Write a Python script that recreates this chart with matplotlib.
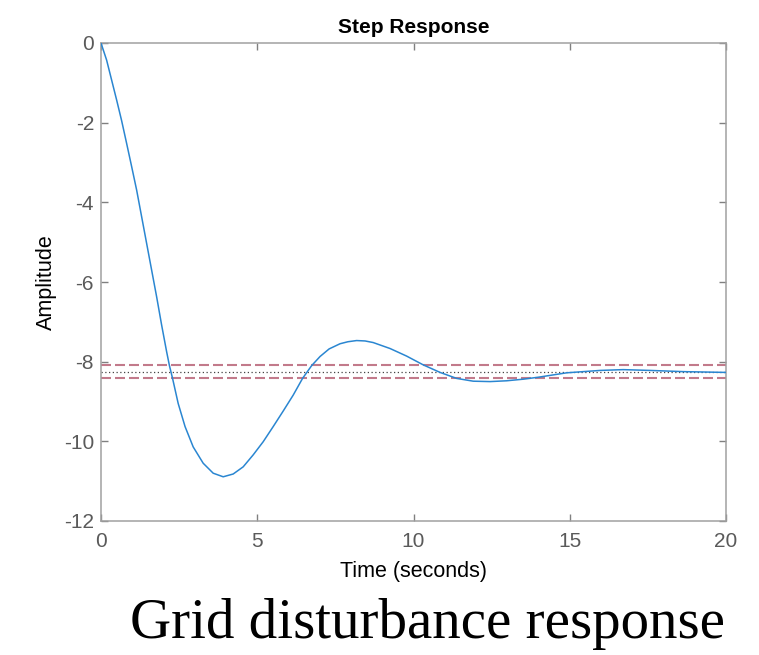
import matplotlib
matplotlib.use("Agg")
import matplotlib.pyplot as plt

# Data
time_s = [0, 0.18, 0.34, 0.50, 0.66, 0.82, 0.98, 1.14, 1.30, 1.46, 1.62, 1.78, 1.94,
          2.10, 2.19, 2.29, 2.47, 2.69, 2.95, 3.27, 3.59, 3.91, 4.23, 4.55, 4.87,
          5.19, 5.51, 5.83, 6.15, 6.45, 6.74, 7.01, 7.30, 7.65, 7.90, 8.18, 8.45,
          8.71, 9.25, 9.78, 10.31, 10.85, 11.38, 11.91, 12.45, 12.98, 13.51, 14.0,
          14.9, 15.97, 16.71, 17.57, 18.63, 20.0]
amplitude = [0, -0.43, -0.93, -1.43, -1.95, -2.52, -3.10, -3.69, -4.36, -5.03, -5.70,
             -6.37, -7.08, -7.75, -8.10, -8.42, -9.05, -9.63, -10.14, -10.55, -10.80,
             -10.89, -10.82, -10.64, -10.34, -10.01, -9.63, -9.24, -8.84, -8.42, -8.10,
             -7.87, -7.68, -7.55, -7.50, -7.47, -7.48, -7.52, -7.67, -7.86, -8.08,
             -8.27, -8.42, -8.49, -8.50, -8.48, -8.44, -8.39, -8.28, -8.22, -8.20,
             -8.22, -8.25, -8.27]
final_value = -8.25
settle_upper = -8.085
settle_lower = -8.415

x_ticks = [0, 5, 10, 15, 20]
y_ticks = [0, -2, -4, -6, -8, -10, -12]

title_text = "Step Response"
x_label = "Time (seconds)"
y_label = "Amplitude"
caption = "Grid disturbance response"

fig = plt.figure(figsize=(7.59, 6.55), dpi=100)
ax = fig.add_axes([101/759, 1 - 521/655, 625/759, 478/655])

sans = ["Liberation Sans", "DejaVu Sans"]
px = 0.72  # 1 px in points at 100 dpi

lw_d = 1.5
dash = (0, (10*px/lw_d, 4*px/lw_d))
ax.axhline(settle_upper, color="#c27a8b", lw=lw_d, linestyle=dash, zorder=2)
ax.axhline(settle_lower, color="#c27a8b", lw=lw_d, linestyle=dash, zorder=2)
ax.axhline(final_value, color="#444444", lw=0.9, linestyle=(0, (1, 2)), zorder=2)
ax.plot(time_s, amplitude, color="#2a86d1", lw=1.1, zorder=3)

ax.set_xlim(0, 20)
ax.set_ylim(-12, 0)
ax.set_xticks(x_ticks)
ax.set_yticks(y_ticks)
ax.set_xticklabels([str(v) for v in x_ticks])
ax.set_yticklabels([str(v) for v in y_ticks])

for s in ax.spines.values():
    s.set_color("#a0a0a0")
    s.set_linewidth(1.1)
ax.tick_params(direction="in", length=5, width=1, color="#808080",
               top=True, right=True, labelcolor="#5a5a5a", labelsize=15)
ax.tick_params(axis="x", pad=8)
ax.tick_params(axis="y", pad=5)
for lab in ax.get_xticklabels() + ax.get_yticklabels():
    lab.set_family(sans)

ax.set_title(title_text, fontsize=15, fontweight="bold", family=sans, color="black", pad=7)
ax.set_xlabel(x_label, fontsize=15.5, family=sans, color="black", labelpad=7)
ax.set_ylabel(y_label, fontsize=15.5, family=sans, color="black", labelpad=5)

fig.text(427/759, 1 - 638/655, caption, fontsize=41, family=["Liberation Serif", "DejaVu Serif"],
         color="black", ha="center", va="baseline")

fig.savefig("out.png", dpi=100, facecolor="white")
